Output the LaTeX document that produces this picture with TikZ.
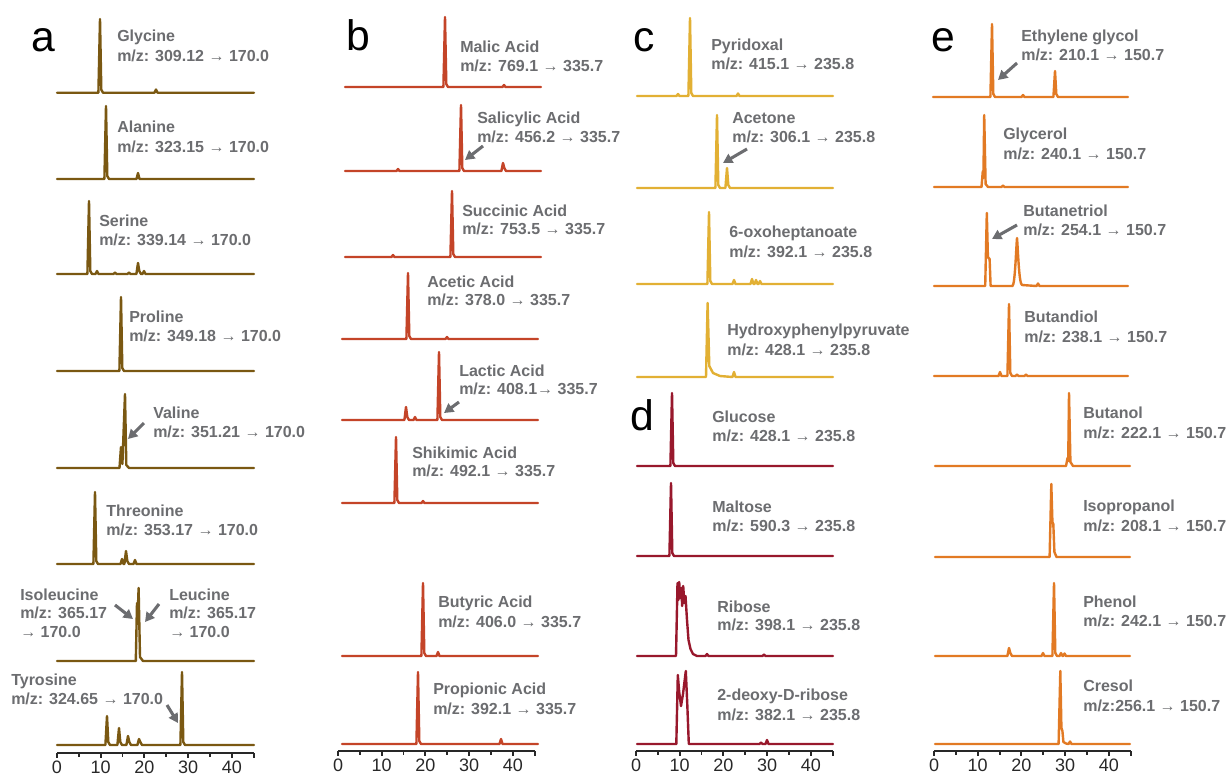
\documentclass[tikz,border=0pt]{standalone}
\usepackage{fontspec}
\setmainfont{Liberation Sans}
\usetikzlibrary{arrows.meta}
\definecolor{ca}{RGB}{122,88,18}
\definecolor{cb}{RGB}{196,68,40}
\definecolor{cc}{RGB}{226,176,52}
\definecolor{cd}{RGB}{152,24,44}
\definecolor{ce}{RGB}{226,122,36}
\definecolor{lg}{RGB}{108,109,112}
\definecolor{axc}{RGB}{40,40,40}
\tikzset{
 trace/.style={line width=1.8pt, line join=round, line cap=round},
 pk/.style n args={3}{insert path={-- (#1-1.6,#3) -- (#1,#2) -- (#1+1.3,#3-3) -- (#1+3,#3)}},
 bp/.style n args={3}{insert path={-- (#1-1.5,#3) -- (#1,#2) -- (#1+1.5,#3)}},
 lbl/.style={anchor=base west, inner sep=0pt, font=\bfseries\fontsize{12}{14}\selectfont, text=lg},
 letter/.style={anchor=base west, inner sep=0pt, font=\fontsize{32}{32}\selectfont},
 tlab/.style={anchor=base, inner sep=0pt, font=\fontsize{13.5}{14}\selectfont, text=axc},
 note/.style={draw=lg, line width=2.3pt, -{Triangle[length=7pt,width=7.5pt]}},
 axl/.style={draw=axc, line width=1.4pt},
}
\newcommand\molab[6]{%
 \node[lbl] (#1a) at (#2,#3) {#4};
 \node[lbl] (#1b) at (#2,#3+#6) {#5};}
\newcommand\taxis[3]{%
 \draw[axl] (#2,#3) -- (#2+45*4.37,#3);
 \foreach \t in {0,10,20,30,40,45} \draw[axl] (#2+\t*4.37,#3) -- (#2+\t*4.37,#3+5);
 \foreach \t in {5,15,25,35} \draw[axl] (#2+\t*4.37,#3) -- (#2+\t*4.37,#3+3.5);
 \foreach \t in {0,10,20,30,40} \node[tlab] (#1\t) at (#2+\t*4.37,#3+20.5) {\t};}
\begin{document}
\begin{tikzpicture}[x=0.75pt,y=-0.75pt]
\useasboundingbox (0,0) rectangle (1230,776);
\fill[white] (0,0) rectangle (1230,776);

% panel letters
\node[letter] (La) at (31,51) {a};
\node[letter] (Lb) at (346,50) {b};
\node[letter] (Lc) at (633,51) {c};
\node[letter] (Ld) at (630,430) {d};
\node[letter] (Le) at (931,51) {e};

% ---------- panel a ----------
\draw[trace,ca] (57,92.7) [pk={100}{19}{92.7}] [bp={156}{89.5}{92.7}] -- (254,92.7);
\draw[trace,ca] (57,179) [pk={106}{106}{179}] [bp={138}{173}{179}] -- (254,179);
\draw[trace,ca] (57,274) [pk={89}{201}{274}] [bp={97}{271}{274}] [bp={115}{272.5}{274}] [bp={129}{272.5}{274}] [pk={138}{263}{274}] [bp={144}{271}{274}] -- (254,274);
\draw[trace,ca] (57,371) [pk={121}{297}{371}] -- (254,371);
\draw[trace,ca] (57,468) -- (119.5,468) -- (121,447) -- (122.4,464) -- (125,394) -- (126.3,465) -- (129,468) -- (254,468);
\draw[trace,ca] (57,564) [pk={95}{492}{564}] [bp={122}{559}{564}] [pk={126}{551}{564}] [bp={135}{560}{564}] -- (254,564);
\draw[trace,ca] (57,661) -- (135.8,661) -- (137,603) -- (137.8,612) -- (138.6,588) -- (140,657) -- (143,661) -- (254,661);
\draw[trace,ca] (57,745) [pk={107}{716}{745}] [pk={119}{728}{745}] [pk={128}{736}{745}] [pk={139}{739}{745}] [pk={182}{672}{745}] -- (254,745);
\taxis{ta}{57}{753}

\molab{gly}{117}{41.5}{Glycine}{m/z: 309.12 → 170.0}{20}
\molab{ala}{117}{132.5}{Alanine}{m/z: 323.15 → 170.0}{19.5}
\molab{ser}{99}{226}{Serine}{m/z: 339.14 → 170.0}{19.5}
\molab{pro}{129}{322}{Proline}{m/z: 349.18 → 170.0}{19.5}
\molab{val}{153}{418}{Valine}{m/z: 351.21 → 170.0}{19.5}
\molab{thr}{106}{516}{Threonine}{m/z: 353.17 → 170.0}{19.5}
\node[lbl] (ile1) at (20,600) {Isoleucine};
\node[lbl] (ile2) at (20,618.5) {m/z: 365.17};
\node[lbl] (ile3) at (20,637) {→ 170.0};
\node[lbl] (leu1) at (169,600) {Leucine};
\node[lbl] (leu2) at (169,618.5) {m/z: 365.17};
\node[lbl] (leu3) at (169,637) {→ 170.0};
\molab{tyr}{11}{685}{Tyrosine}{m/z: 324.65 → 170.0}{19.5}

\coordinate (valS) at (144,423); \coordinate (valE) at (128,439);
\draw[note] (valS) -- (valE);
\coordinate (ileS) at (115,605); \coordinate (ileE) at (133,619);
\draw[note] (ileS) -- (ileE);
\coordinate (leuS) at (159,604); \coordinate (leuE) at (145,622);
\draw[note] (leuS) -- (leuE);
\coordinate (tyrS) at (167,705); \coordinate (tyrE) at (178,723);
\draw[note] (tyrS) -- (tyrE);

% ---------- panel b ----------
\draw[trace,cb] (345,87) [pk={445}{17}{87}] [bp={504}{85}{87}] -- (541,87);
\draw[trace,cb] (345,171) [bp={398}{169}{171}] [pk={461}{105}{171}] [pk={503}{163}{171}] -- (541,171);
\draw[trace,cb] (345,257) [bp={393}{255}{257}] [pk={452}{191}{257}] -- (541,257);
\draw[trace,cb] (342,339) [pk={408}{273}{339}] [bp={447}{337}{339}] -- (538,339);
\draw[trace,cb] (342,420) [pk={406}{407}{420}] [bp={415}{417}{420}] [pk={439}{352}{420}] -- (538,420);
\draw[trace,cb] (342,503) [pk={396}{437}{503}] [bp={423}{501}{503}] -- (538,503);
\draw[trace,cb] (342,656) [pk={423}{583}{656}] [bp={438}{652}{656}] -- (538,656);
\draw[trace,cb] (342,744) [pk={418}{672}{744}] [bp={501}{739}{744}] -- (538,744);
\taxis{tb}{338}{751}

\molab{mal}{460}{52}{Malic Acid}{m/z: 769.1 → 335.7}{19}
\molab{sal}{477}{123}{Salicylic Acid}{m/z: 456.2 → 335.7}{19}
\molab{suc}{462}{216}{Succinic Acid}{m/z: 753.5 → 335.7}{18}
\molab{ace}{427}{287}{Acetic Acid}{m/z: 378.0 → 335.7}{18}
\molab{lac}{459}{376}{Lactic Acid}{m/z: 408.1→ 335.7}{18.5}
\molab{shi}{412}{458}{Shikimic Acid}{m/z: 492.1 → 335.7}{18}
\molab{but}{438}{607}{Butyric Acid}{m/z: 406.0 → 335.7}{20}
\molab{prp}{433}{694}{Propionic Acid}{m/z: 392.1 → 335.7}{20}

\coordinate (salS) at (483,146); \coordinate (salE) at (465,160);
\draw[note] (salS) -- (salE);
\coordinate (lacS) at (459,402); \coordinate (lacE) at (444,413);
\draw[note] (lacS) -- (lacE);

% ---------- panel c ----------
\draw[trace,cc] (637,96) [bp={678}{94}{96}] [pk={690}{18}{96}] [bp={738}{93.5}{96}] -- (833,96);
\draw[trace,cc] (637,188) [pk={717}{115}{188}] [pk={727}{168}{188}] -- (833,188);
\draw[trace,cc] (637,284) [pk={709}{212}{284}] [bp={734}{280}{284}] [bp={752}{279}{284}] [bp={756}{280}{284}] [bp={760}{281}{284}] -- (833,284);
\draw[trace,cc] (637,377) -- (706,377) -- (707.6,303) -- (709.3,366) -- (713,373) -- (720,376) [bp={734}{372}{377}] -- (833,377);

\molab{pyr}{711}{50}{Pyridoxal}{m/z: 415.1 → 235.8}{19}
\molab{acn}{732}{123}{Acetone}{m/z: 306.1 → 235.8}{19}
\molab{oxo}{729}{237}{6-oxoheptanoate}{m/z: 392.1 → 235.8}{20}
\molab{hpp}{727}{335}{Hydroxyphenylpyruvate}{m/z: 428.1 → 235.8}{20.5}

\coordinate (acnS) at (747,149); \coordinate (acnE) at (723,163);
\draw[note] (acnS) -- (acnE);

% ---------- panel d ----------
\draw[trace,cd] (637,466) [pk={672}{393}{466}] -- (833,466);
\draw[trace,cd] (637,556) [pk={671}{483}{556}] -- (833,556);
\draw[trace,cd] (637,656) -- (676,656) -- (677.5,583) -- (678.3,600) -- (679.2,582) -- (680.2,598) -- (681.2,588) -- (682.2,606) -- (683.2,586) -- (684.3,603) -- (685.5,596) -- (687,620) -- (688.5,640) -- (690.5,649) -- (693,654) -- (697,656) [bp={707}{654}{656}] [bp={764}{654.5}{656}] -- (833,656);
\draw[trace,cd] (637,744) -- (676.3,744) -- (677.8,675) -- (679.2,692) -- (681,706) -- (683,694) -- (685.8,671) -- (687.3,705) -- (688.8,744) [bp={761}{742.5}{744}] [bp={767}{740}{744}] -- (833,744);
\taxis{tc}{636}{751}

\molab{glc}{712}{422}{Glucose}{m/z: 428.1 → 235.8}{19}
\molab{mlt}{712}{512}{Maltose}{m/z: 590.3 → 235.8}{19}
\molab{rib}{717}{612}{Ribose}{m/z: 398.1 → 235.8}{18.5}
\molab{dri}{717}{700}{2-deoxy-D-ribose}{m/z: 382.1 → 235.8}{20}

% ---------- panel e ----------
\draw[trace,ce] (933,97) [pk={992}{24}{97}] [bp={1023}{95}{97}] [pk={1055}{71}{97}] -- (1128,97);
\draw[trace,ce] (934,187) -- (981.5,187) -- (982.8,171) -- (983.4,178) -- (984.2,115) -- (985.6,184) -- (988,187) [bp={1003}{185.5}{187}] -- (1128,187);
\draw[trace,ce] (934,286) -- (985.2,286) -- (986.8,213) -- (987.9,257) -- (989.6,259) -- (990.6,286) -- (1012.5,286) .. controls (1015,284) and (1016,250) .. (1017,238) .. controls (1018,250) and (1019,284) .. (1022,285) [bp={1038}{283.5}{286}] -- (1128,286);
\draw[trace,ce] (934,376) [bp={1000}{372}{376}] [pk={1009}{304}{376}] [bp={1017}{374.5}{376}] [bp={1026}{374.5}{376}] -- (1128,376);
\draw[trace,ce] (935,466) -- (1066,466) -- (1067.5,458) -- (1068.2,461) -- (1069,393) -- (1070.4,462) -- (1073,466) -- (1130,466);
\draw[trace,ce] (935,557) -- (1049.6,557) -- (1051.3,484) -- (1052.4,522) -- (1053.3,524) -- (1054.4,552) -- (1056.5,557) -- (1130,557);
\draw[trace,ce] (935,656) [pk={1009}{648}{656}] [bp={1043}{653}{656}] [pk={1054}{583}{656}] [bp={1061}{653}{656}] [bp={1064.5}{653.5}{656}] -- (1130,656);
\draw[trace,ce] (935,744) -- (1058.6,744) -- (1060.3,671) -- (1061.4,728) -- (1062.4,731) -- (1063.4,742) -- (1066,743.5) [bp={1070}{741.5}{744}] -- (1130,744);
\taxis{te}{934}{751}

\molab{egl}{1021}{41}{Ethylene glycol}{m/z: 210.1 → 150.7}{19}
\molab{gcl}{1003}{139}{Glycerol}{m/z: 240.1 → 150.7}{20}
\molab{btt}{1023}{216}{Butanetriol}{m/z: 254.1 → 150.7}{19}
\molab{btd}{1024}{322}{Butandiol}{m/z: 238.1 → 150.7}{20}
\molab{bol}{1083}{418}{Butanol}{m/z: 222.1 → 150.7}{20}
\molab{ipr}{1083}{511}{Isopropanol}{m/z: 208.1 → 150.7}{20}
\molab{phe}{1083}{607}{Phenol}{m/z: 242.1 → 150.7}{19.5}
\molab{cre}{1083}{691}{Cresol}{m/z:256.1 → 150.7}{20}

\coordinate (eglS) at (1017,63); \coordinate (eglE) at (998,80);
\draw[note] (eglS) -- (eglE);
\coordinate (bttS) at (1017,225); \coordinate (bttE) at (992,239);
\draw[note] (bttS) -- (bttE);
\end{tikzpicture}
\end{document}
